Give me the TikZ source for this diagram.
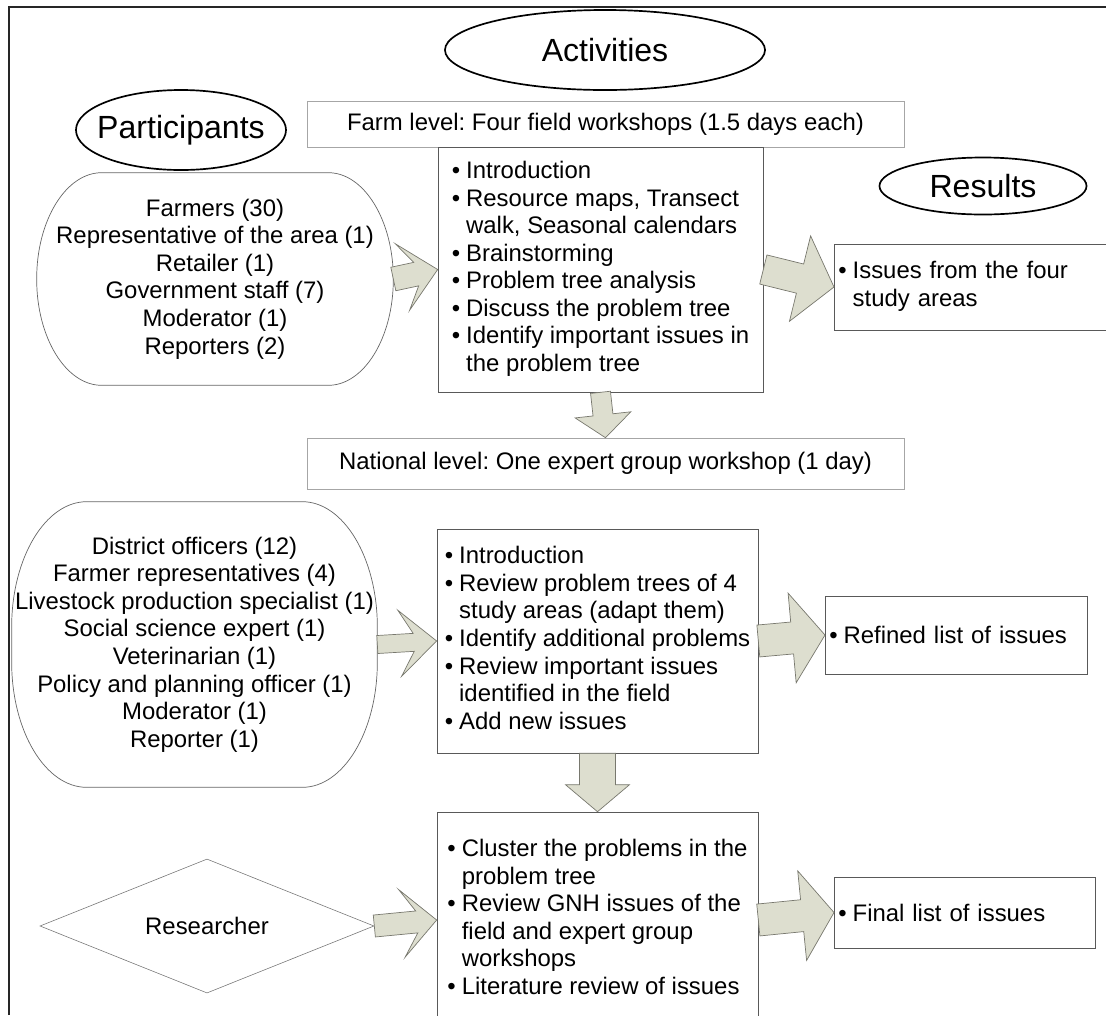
\documentclass[tikz,border=0pt]{standalone}
\usepackage{fontspec}
\setmainfont{Liberation Sans}
\usepackage{tikz}
\usetikzlibrary{positioning,calc,shapes.geometric}

\definecolor{arrowfill}{RGB}{221,222,207}
\definecolor{arrowline}{RGB}{120,120,110}
\definecolor{lvlline}{gray}{0.65}
\definecolor{boxline}{gray}{0.35}

\newcommand{\pxu}{0.025cm}
% block arrow: from, to, shaft, head, head length, sweep (all in px)
\newcommand{\blockarrow}[6]{%
  \coordinate (bah) at ($(#2)!#5*\pxu!(#1)$);
  \coordinate (bac) at ($(#2)!#5*\pxu+#6*\pxu!(#1)$);
  \filldraw[barrow] ($(#1)!#3*\pxu!90:(#2)$) -- ($(bah)!#3*\pxu!90:(#2)$)
    -- ($(bac)!#4*\pxu!90:(#2)$) -- (#2) -- ($(bac)!#4*\pxu!-90:(#2)$)
    -- ($(bah)!#3*\pxu!-90:(#2)$) -- ($(#1)!#3*\pxu!-90:(#2)$) -- cycle;
}
% oval frame round a node: node, rx, ry (px)
\newcommand{\ovalframe}[3]{%
  \draw[partline] ($(#1.north west)+(#2,0)$) -- ($(#1.north east)+(-#2,0)$)
    .. controls ($(#1.north east)+(-0.45*#2,0)$) and ($(#1.north east)+(0,0.45*#3)$) .. ($(#1.north east)+(0,#3)$)
    -- ($(#1.south east)+(0,-#3)$)
    .. controls ($(#1.south east)+(0,-0.45*#3)$) and ($(#1.south east)+(-0.45*#2,0)$) .. ($(#1.south east)+(-#2,0)$)
    -- ($(#1.south west)+(#2,0)$)
    .. controls ($(#1.south west)+(0.45*#2,0)$) and ($(#1.south west)+(0,-0.45*#3)$) .. ($(#1.south west)+(0,-#3)$)
    -- ($(#1.north west)+(0,#3)$)
    .. controls ($(#1.north west)+(0,0.45*#3)$) and ($(#1.north west)+(0.45*#2,0)$) .. ($(#1.north west)+(#2,0)$) -- cycle;
}

\begin{document}
\frenchspacing
\begin{tikzpicture}[x=0.025cm,y=-0.025cm,
    font=\fontsize{17}{19.6}\selectfont,
    titleoval/.style={ellipse,draw,line width=1.2pt,inner sep=0pt,
        font=\fontsize{22.8}{26}\selectfont},
    levelbox/.style={rectangle,draw=lvlline,minimum width=14.925cm,inner sep=0pt},
    actbox/.style={rectangle,draw=boxline,inner sep=0pt},
    resbox/.style={rectangle,draw=boxline,align=left,anchor=west,
        inner xsep=0.1cm,inner ysep=0pt},
    partbox/.style={rectangle,align=center,inner sep=0pt},
    partline/.style={draw=black!60,line width=0.5pt},
    barrow/.style={fill=arrowfill,draw=arrowline,line width=0.5pt}]

  \useasboundingbox (0,0) rectangle (1106,1015);
  \clip (0,0) rectangle (1106,1015);
  \draw[line width=1.4pt,black!85] (9,1015) -- (9,7) -- (1106,7);

  % headings
  \node[titleoval,minimum width=8cm,minimum height=2cm] (activities) at (605,50)
    {\makebox[0pt]{Activities}};
  \node[titleoval,minimum width=5.25cm,minimum height=2cm] (participants) at (181,130)
    {\makebox[0pt]{Participants}};
  \node[titleoval,minimum width=5.175cm,minimum height=1.425cm] (results) at (983,186)
    {\makebox[0pt]{Results}};

  % farm level
  \node[levelbox,minimum height=1.15cm] (farmlvl) at (605.5,124)
    {Farm level: Four field workshops (1.5 days each)};
  \node[actbox,minimum width=8.125cm,minimum height=6.125cm] (farmact) at (600.5,269.5) {%
    \begin{tabular}{@{}l@{\hspace{0.15cm}}l@{}}
    \textbullet & Introduction\\
    \textbullet & Resource maps, Transect\\
     & walk, Seasonal calendars\\
    \textbullet & Brainstorming\\
    \textbullet & Problem tree analysis\\
    \textbullet & Discuss the problem tree\\
    \textbullet & Identify important issues in\\
     & the problem tree
    \end{tabular}};
  \node[partbox,minimum width=8.9cm,minimum height=5.3cm] (part1) at (215,279)
    {Farmers (30)\\ Representative of the area (1)\\ Retailer (1)\\
     Government staff (7)\\ Moderator (1)\\ Reporters (2)};
  \node[resbox,text width=6.95cm,minimum height=2.15cm] (issues) at (834,287) {%
    \begin{tabular}{@{}l@{\hspace{0.15cm}}l@{}}
    \textbullet & Issues from the four\\
     & study areas
    \end{tabular}};

  % national level
  \node[levelbox,minimum height=1.275cm] (natlvl) at (605.5,463.5)
    {National level: One expert group workshop (1 day)};
  \node[actbox,minimum width=8.025cm,minimum height=5.6cm] (natact) at (597.5,641) {%
    \begin{tabular}{@{}l@{\hspace{0.15cm}}l@{}}
    \textbullet & Introduction\\
    \textbullet & Review problem trees of 4\\
     & study areas (adapt them)\\
    \textbullet & Identify additional problems\\
    \textbullet & Review important issues\\
     & identified in the field\\
    \textbullet & Add new issues
    \end{tabular}};
  \node[partbox,minimum width=9.125cm,minimum height=7.125cm] (part2) at (194.5,644.5)
    {District officers (12)\\ Farmer representatives (4)\\ Livestock production specialist (1)\\
     Social science expert (1)\\ Veterinarian (1)\\ Policy and planning officer (1)\\
     Moderator (1)\\ Reporter (1)};
  \node[resbox,text width=6.35cm,minimum height=1.95cm] (refined) at (825,635)
    {\textbullet\hspace{0.15cm}Refined list of issues};

  % researcher
  \node[actbox,minimum width=8.025cm,minimum height=5.4cm] (bottomact) at (597.5,920) {%
    \begin{tabular}{@{}l@{\hspace{0.15cm}}l@{}}
    \textbullet & Cluster the problems in the\\
     & problem tree\\
    \textbullet & Review GNH issues of the\\
     & field and expert group\\
     & workshops\\
    \textbullet & Literature review of issues
    \end{tabular}};
  \node[diamond,draw=black!55,shape aspect=2.5,inner sep=0pt,
        minimum width=8.35cm,minimum height=3.35cm] (researcher) at (207,926)
    {\makebox[0pt]{Researcher}};
  \node[resbox,text width=6.325cm,minimum height=1.775cm] (final) at (834,912.5)
    {\textbullet\hspace{0.15cm}Final list of issues};

  \ovalframe{part1}{65}{106}
  \ovalframe{part2}{75}{125}

  \blockarrow{part1.east}{farmact.west}{12}{34}{22}{14}
  \blockarrow{farmact.east}{issues.west}{15}{44}{35}{0}
  \blockarrow{farmact.south}{natlvl.north}{10}{28}{23}{0}
  \blockarrow{part2.east}{natact.west}{9}{33}{23}{14}
  \blockarrow{natact.east}{refined.west}{16}{45}{33}{0}
  \blockarrow{natact.south}{bottomact.north}{18}{32}{27}{0}
  \blockarrow{researcher.east}{bottomact.west}{11}{34}{20}{15}
  \blockarrow{bottomact.east}{final.west}{16}{45}{32}{0}

\end{tikzpicture}
\end{document}
